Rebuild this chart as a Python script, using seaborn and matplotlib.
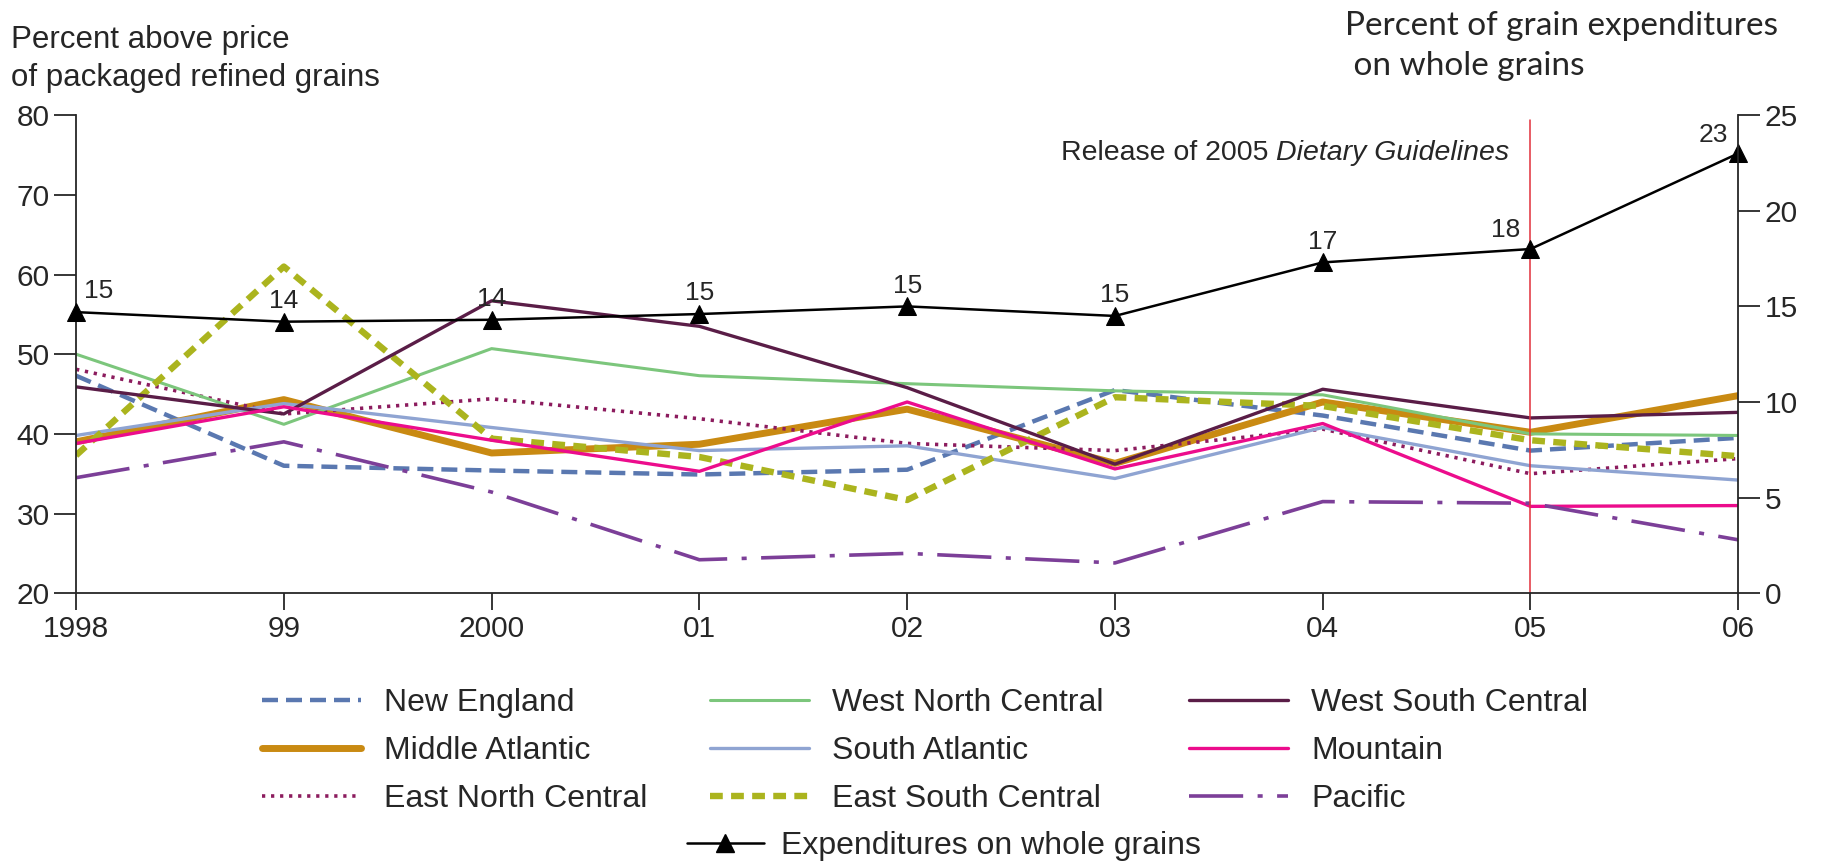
import pandas as pd
import matplotlib
matplotlib.use("Agg")
import matplotlib.pyplot as plt
from matplotlib.lines import Line2D
import seaborn as sns

# values
years = [1998, 1999, 2000, 2001, 2002, 2003, 2004, 2005, 2006]
year_labels = ["1998", "99", "2000", "01", "02", "03", "04", "05", "06"]

new_england = [47.3, 36.0, 35.4, 34.9, 35.5, 45.5, 42.3, 37.9, 39.5]
middle_atlantic = [39.0, 44.3, 37.6, 38.7, 43.1, 36.3, 44.0, 40.2, 44.8]
east_north_central = [48.1, 42.5, 44.4, 41.9, 38.8, 37.9, 40.6, 35.0, 36.9]
west_north_central = [50.0, 41.2, 50.7, 47.3, 46.3, 45.4, 44.9, 40.0, 39.8]
south_atlantic = [39.8, 43.8, 40.8, 37.9, 38.5, 34.4, 40.8, 36.0, 34.2]
east_south_central = [37.3, 61.0, 39.4, 37.1, 31.7, 44.6, 43.5, 39.2, 37.2]
west_south_central = [45.9, 42.5, 56.7, 53.5, 45.8, 36.2, 45.6, 42.0, 42.7]
mountain = [38.8, 43.4, 39.2, 35.3, 44.0, 35.6, 41.3, 30.9, 31.0]
pacific = [34.5, 39.0, 32.7, 24.2, 25.0, 23.8, 31.5, 31.3, 26.7]

whole_grain_share = [14.7, 14.2, 14.3, 14.6, 15.0, 14.5, 17.3, 18.0, 23.0]
whole_grain_labels = ["15", "14", "14", "15", "15", "15", "17", "18", "23"]

regions = ["New England", "Middle Atlantic", "East North Central",
           "West North Central", "South Atlantic", "East South Central",
           "West South Central", "Mountain", "Pacific"]
region_values = [new_england, middle_atlantic, east_north_central,
                 west_north_central, south_atlantic, east_south_central,
                 west_south_central, mountain, pacific]

colors = {
    "New England": "#5a78b0",
    "Middle Atlantic": "#c98a12",
    "East North Central": "#8c1c5e",
    "West North Central": "#7cc67c",
    "South Atlantic": "#8fa4d2",
    "East South Central": "#abb41e",
    "West South Central": "#5a1d47",
    "Mountain": "#ec0c8c",
    "Pacific": "#7c3f98",
}
widths = {
    "New England": 3.2,
    "Middle Atlantic": 5.0,
    "East North Central": 2.6,
    "West North Central": 2.2,
    "South Atlantic": 2.4,
    "East South Central": 4.6,
    "West South Central": 2.4,
    "Mountain": 2.4,
    "Pacific": 2.6,
}
dashes = {
    "New England": (3.6, 1.8),
    "Middle Atlantic": "",
    "East North Central": (0.9, 1.6),
    "West North Central": "",
    "South Atlantic": "",
    "East South Central": (2.0, 1.3),
    "West South Central": "",
    "Mountain": "",
    "Pacific": (15, 4, 1.4, 4),
}

df = pd.DataFrame({
    "year": years * len(regions),
    "region": [r for r in regions for _ in years],
    "value": [v for vals in region_values for v in vals],
})

sns.set_style("ticks")
plt.rcParams["font.family"] = ["Liberation Sans", "DejaVu Sans"]

fig, ax = plt.subplots(figsize=(18.24, 8.66), dpi=100)
fig.subplots_adjust(left=0.0417, right=0.953, top=0.867, bottom=0.315)

sns.lineplot(data=df, x="year", y="value", hue="region", size="region",
             style="region", palette=colors, sizes=widths, dashes=dashes,
             hue_order=regions, size_order=regions, style_order=regions,
             legend=False, ax=ax)

ax.set_xlim(1998, 2006)
ax.set_ylim(20, 80)
ax.set_xticks(years)
ax.set_xticklabels(year_labels)
ax.set_yticks(range(20, 81, 10))
ax.set_xlabel("")
ax.set_ylabel("")
ax.spines["top"].set_visible(False)
ax.spines["right"].set_visible(False)
for s in ["left", "bottom"]:
    ax.spines[s].set_linewidth(1.3)
ax.tick_params(axis="y", direction="out", length=16, width=1.3, labelsize=21.5, pad=3)
ax.tick_params(axis="x", direction="out", length=12, width=1.3, labelsize=21.5, pad=4)

ax.axvline(2005, ymax=0.99, color="#e2303a", lw=1.1)

# right axis: share of grain spending on whole grains
ax2 = ax.twinx()
sns.lineplot(x=years, y=whole_grain_share, color="black", lw=1.8,
             marker="^", markersize=13, markeredgecolor="black",
             clip_on=False, ax=ax2)
ax2.set_ylim(0, 25)
ax2.set_yticks(range(0, 26, 5))
ax2.set_ylabel("")
for s in ["top", "left", "bottom"]:
    ax2.spines[s].set_visible(False)
ax2.spines["right"].set_linewidth(1.3)
ax2.tick_params(axis="y", direction="out", length=16, width=1.3, labelsize=21.5, pad=3)

offsets = {1998: (16, 15), 2005: (-18, 14), 2006: (-18, 13)}
for yr, val, lab in zip(years, whole_grain_share, whole_grain_labels):
    dx, dy = offsets.get(yr, (0, 15))
    ax2.annotate(lab, (yr, val), xytext=(dx, dy), textcoords="offset points",
                 ha="center", va="center", fontsize=19)

t1 = ax.text(2002.74, 75.2, "Release of 2005 ", fontsize=20.5, va="center")
ax.annotate("Dietary Guidelines", xy=(1, 0.5), xycoords=t1, va="center",
            ha="left", fontsize=20.5, style="italic")

fig.text(0.006, 1 - 59 / 866, "Percent above price\nof packaged refined grains",
         fontsize=22.5, va="center", ha="left", linespacing=1.35)
fig.text(1345 / 1824, 1 - 46 / 866, "Percent of grain expenditures\n on whole grains",
         fontsize=24, va="center", ha="left", linespacing=1.45,
         family=["Lato", "DejaVu Sans"])

# legend: three columns of three regions, placed one column at a time
col_x = [262, 710, 1189]
for c, x0 in enumerate(col_x):
    names = regions[c * 3:(c + 1) * 3]
    handles = []
    for r in names:
        ls = "-" if dashes[r] == "" else (0, dashes[r])
        handles.append(Line2D([], [], color=colors[r], lw=widths[r], linestyle=ls))
    fig.legend(handles, names, loc="upper left",
               bbox_to_anchor=(x0 / 1824, 1 - 688 / 866), frameon=False,
               fontsize=23, handlelength=3.1, handletextpad=0.72,
               labelspacing=0.57, borderpad=0, borderaxespad=0)

exp_handle = Line2D([], [], color="black", lw=1.8, marker="^", markersize=13)
fig.legend([exp_handle], ["Expenditures on whole grains"], loc="center left",
           bbox_to_anchor=(687 / 1824, 1 - 846 / 866), frameon=False,
           fontsize=23, handlelength=2.4, handletextpad=0.55,
           borderpad=0, borderaxespad=0)

fig.savefig("out.png", dpi=100)
